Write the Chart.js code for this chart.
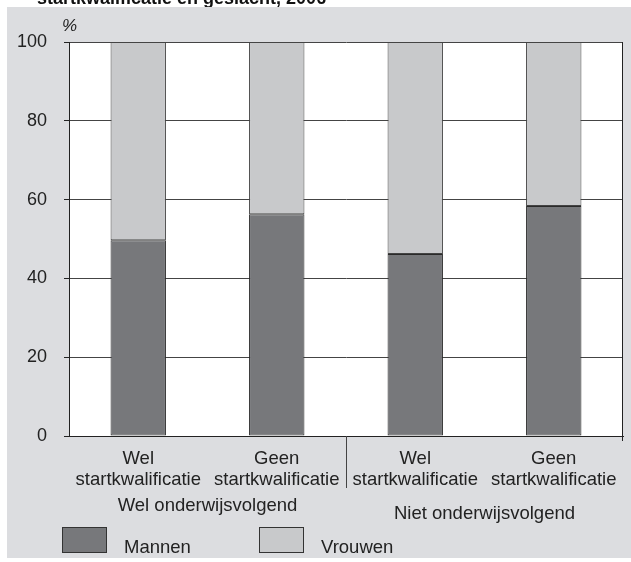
<!DOCTYPE html>
<html>
<head>
<meta charset="utf-8">
<script src="https://cdn.jsdelivr.net/npm/chart.js@4/dist/chart.umd.min.js"></script>
<style>
  body { margin: 0; background: #fff; }
  #wrap { position: relative; width: 631px; height: 562px; }
</style>
</head>
<body>
<div id="wrap"><canvas id="chart" width="631" height="562"></canvas></div>
<script>
// data (percent)
var categories = [["Wel", "startkwalificatie"], ["Geen", "startkwalificatie"], ["Wel", "startkwalificatie"], ["Geen", "startkwalificatie"]];
var mannen = [49.7, 56.3, 46.2, 58.4];
var vrouwen = [50.3, 43.7, 53.8, 41.6];
var groups = ["Wel onderwijsvolgend", "Niet onderwijsvolgend"];
var yTicks = [0, 20, 40, 60, 80, 100];
var title = "startkwalificatie en geslacht, 2006";

var FONT = "'Liberation Sans', Arial, sans-serif";

var extras = {
	id: "extras",
	beforeDraw: function(chart){
		var c = chart.ctx, a = chart.chartArea;
		c.save();
		c.fillStyle = "#fff";
		c.fillRect(0, 0, chart.width, chart.height);
		// cut off title strip
		c.fillStyle = "#111";
		c.font = "bold 18px " + FONT;
		c.textBaseline = "alphabetic";
		c.fillText(title, 37, 4);
		c.fillStyle = "#dcdde0";
		c.fillRect(7, 7, chart.width - 7, 551);
		c.fillStyle = "#fff";
		c.fillRect(a.left, a.top, a.right - a.left, a.bottom - a.top);
		c.restore();
	},
	afterDraw: function(chart){
		var c = chart.ctx, a = chart.chartArea, x = chart.scales.x;
		c.save();
		c.strokeStyle = "#222";
		c.lineWidth = 1;
		// right frame and end tick
		var r = Math.round(a.right) - 0.5;
		c.beginPath();
		c.moveTo(r, a.top); c.lineTo(r, a.bottom + 5);
		c.stroke();
		// divider between the two groups
		var mid = Math.round((x.getPixelForValue(1) + x.getPixelForValue(2)) / 2) + 0.5;
		c.strokeStyle = "#444";
		c.beginPath();
		c.moveTo(mid, a.bottom); c.lineTo(mid, a.bottom + 52);
		c.stroke();
		c.fillStyle = "#222";
		c.font = "18.5px " + FONT;
		c.textAlign = "center";
		c.textBaseline = "middle";
		c.fillText(groups[0], (x.getPixelForValue(0) + x.getPixelForValue(1)) / 2, 506);
		c.fillText(groups[1], (x.getPixelForValue(2) + x.getPixelForValue(3)) / 2, 514);
		// axis unit
		c.font = "italic 17px " + FONT;
		c.textAlign = "left";
		c.fillText("%", 62, 26);
		// legend
		var ds = chart.data.datasets;
		var lx = [62, 259];
		c.font = "18.5px " + FONT;
		for (var i = 0; i < ds.length; i++) {
			c.fillStyle = ds[i].backgroundColor;
			c.fillRect(lx[i], 527, 45, 26);
			c.strokeStyle = "#333";
			c.strokeRect(lx[i] + 0.5, 527.5, 44, 25);
			c.fillStyle = "#222";
			c.fillText(ds[i].label, lx[i] + 62, 548);
		}
		c.restore();
	}
};

var chart = new Chart(document.getElementById("chart"), {
	type: "bar",
	data: {
		labels: categories,
		datasets: [
			{ label: "Mannen", data: mannen, backgroundColor: "#77787b", borderColor: "#2a2a2a", borderWidth: 1, borderSkipped: false },
			{ label: "Vrouwen", data: vrouwen, backgroundColor: "#c8c9cb", borderColor: "#444", borderWidth: 1, borderSkipped: false }
		]
	},
	options: {
		responsive: false,
		animation: false,
		categoryPercentage: 1,
		barPercentage: 0.4,
		layout: { padding: { left: 9, right: 8, top: 42, bottom: 0 } },
		plugins: { legend: { display: false }, tooltip: { enabled: false } },
		scales: {
			x: {
				stacked: true,
				grid: { display: false },
				border: { color: "#222", width: 1 },
				ticks: { color: "#222", padding: 5, font: { family: FONT, size: 18.5, lineHeight: 1.1 }, maxRotation: 0, autoSkip: false },
				afterFit: function(s){ s.height = 126; }
			},
			y: {
				stacked: true,
				min: 0,
				max: 100,
				afterBuildTicks: function(s){ s.ticks = yTicks.map(function(v){ return { value: v }; }); },
				grid: { color: "#444", tickColor: "#222", tickLength: 5 },
				border: { color: "#222", width: 1 },
				ticks: { color: "#222", padding: 17, font: { family: FONT, size: 18 } },
				afterFit: function(s){ s.width = 60; }
			}
		}
	},
	plugins: [extras]
});
</script>
</body>
</html>
